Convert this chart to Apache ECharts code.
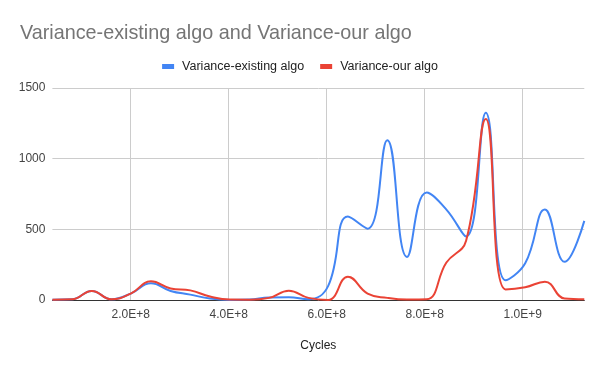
<!DOCTYPE html>
<html>
<head>
<meta charset="utf-8">
<script src="https://cdn.jsdelivr.net/npm/echarts@6/dist/echarts.min.js"></script>
<style>html,body{margin:0;padding:0;background:#fff}#c{width:600px;height:371px}</style>
</head>
<body>
<div id="c"></div>
<script>
// Cycles (x values)
var cycles = [4.02e7, 8.04e7, 1.206e8, 1.608e8, 2.01e8, 2.412e8, 2.814e8, 3.216e8, 3.618e8, 4.02e8,
              4.422e8, 4.824e8, 5.226e8, 5.628e8, 6.03e8, 6.432e8, 6.834e8, 7.236e8, 7.638e8, 8.04e8,
              8.442e8, 8.844e8, 9.246e8, 9.648e8, 1.005e9, 1.0452e9, 1.0854e9, 1.1256e9];
var existingAlgo = [2, 5, 64, 5, 47, 118, 64, 38, 10, 0,
                    3, 18, 20, 5, 100, 590, 505, 1130, 305, 760,
                    640, 450, 1325, 140, 260, 640, 270, 560];
var ourAlgo = [2, 5, 64, 5, 47, 132, 82, 68, 25, 3,
               2, 15, 66, 15, 0, 165, 45, 15, 3, 5,
               265, 420, 1280, 75, 90, 130, 10, 5];
var xTicks = [2e8, 4e8, 6e8, 8e8, 1e9];
var yTicks = [0, 500, 1000, 1500];

function pairs(xs, ys) { return xs.map(function (x, i) { return [x, ys[i]]; }); }
function fmtE(v) {
  var e = Math.floor(Math.log10(v));
  var m = v / Math.pow(10, e);
  return m.toFixed(1) + 'E+' + e;
}

var chart = echarts.init(document.getElementById('c'), null, {renderer: 'canvas'});
var font = "Arial, 'Liberation Sans', sans-serif";
chart.setOption({
  animation: false,
  backgroundColor: '#fff',
  title: {
    text: 'Variance-existing algo and Variance-our algo',
    left: 15, top: 19,
    textStyle: {fontFamily: font, fontSize: 19.8, fontWeight: 'normal', color: '#757575'}
  },
  legend: {
    top: 55, left: 'center',
    icon: 'rect', itemWidth: 12, itemHeight: 5, itemGap: 16,
    textStyle: {fontFamily: font, fontSize: 12.5, color: '#222', padding: [0, 0, 0, 3]},
    data: ['Variance-existing algo', 'Variance-our algo']
  },
  grid: {left: 52.4, right: 15.7, top: 88, bottom: 71, containLabel: false},
  xAxis: {
    type: 'value',
    min: cycles[0], max: cycles[cycles.length - 1],
    name: 'Cycles', nameLocation: 'middle', nameGap: 40,
    nameTextStyle: {fontFamily: font, fontSize: 12, color: '#222'},
    axisLine: {show: true, onZero: false, lineStyle: {color: '#333', width: 1}},
    axisTick: {show: false, customValues: xTicks},
    axisLabel: {customValues: xTicks, formatter: fmtE, fontFamily: font, fontSize: 12, color: '#444', margin: 9},
    splitLine: {show: true, lineStyle: {color: '#cccccc', width: 1}}
  },
  yAxis: {
    type: 'value', min: yTicks[0], max: yTicks[yTicks.length - 1], interval: 500,
    axisLine: {show: false}, axisTick: {show: false},
    axisLabel: {formatter: function (v) { return String(v); }, fontFamily: font, fontSize: 12, color: '#444', margin: 7},
    splitLine: {lineStyle: {color: '#cccccc', width: 1}}
  },
  series: [
    {name: 'Variance-existing algo', type: 'line', smooth: 0.45, symbol: 'none',
     data: pairs(cycles, existingAlgo), itemStyle: {color: '#4285F4'},
     lineStyle: {color: '#4285F4', width: 2}, clip: true},
    {name: 'Variance-our algo', type: 'line', smooth: 0.45, symbol: 'none',
     data: pairs(cycles, ourAlgo), itemStyle: {color: '#EA4335'},
     lineStyle: {color: '#EA4335', width: 2}, clip: true}
  ]
});
</script>
</body>
</html>
